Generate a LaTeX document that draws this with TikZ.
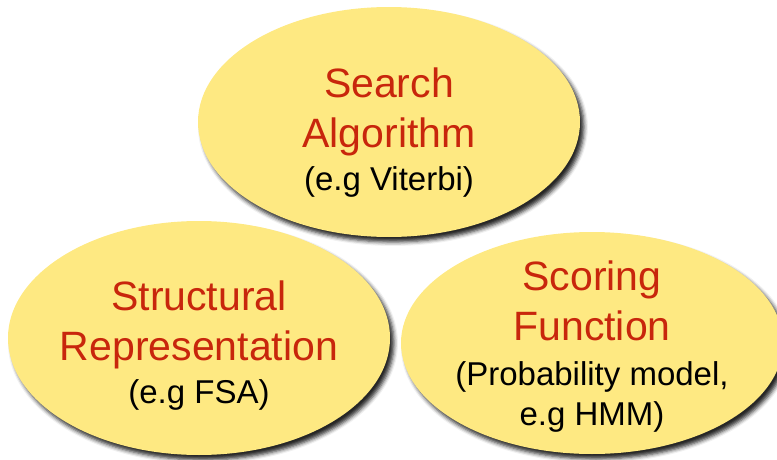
\documentclass[tikz,border=0pt]{standalone}
\usepackage{fontspec}
\setmainfont{Liberation Sans}
\usetikzlibrary{shapes.geometric,shadows.blur}
\definecolor{bubblefill}{RGB}{254,233,130}
\definecolor{titlered}{RGB}{200,38,12}
\tikzset{
  bubble/.style={ellipse, fill=bubblefill, inner sep=0pt,
    blur shadow={shadow xshift=4pt, shadow yshift=-5pt,
      shadow blur radius=4pt, shadow opacity=85}},
  title/.style={anchor=base, text=titlered, font=\fontsize{41}{41}\selectfont, inner sep=0pt},
  note/.style={anchor=base, text=black, font=\fontsize{33}{33}\selectfont, inner sep=0pt}
}
\begin{document}
\begin{tikzpicture}[x=1pt,y=1pt]
  \useasboundingbox (0,0) rectangle (777,459);
  % the three components
  \node[bubble, minimum width=382pt, minimum height=230pt] (search) at (389,337) {};
  \node[bubble, minimum width=382pt, minimum height=234pt] (struct) at (199,121) {};
  \node[bubble, minimum width=382pt, minimum height=222pt] (score) at (592,116) {};
  % search algorithm
  \node[title] (s1) at (389,362) {Search};
  \node[title] (s2) at (389,312) {Algorithm};
  \node[note]  (s3) at (389,269) {(e.g Viterbi)};
  % structural representation
  \node[title] (r1) at (199,149) {Structural};
  \node[title] (r2) at (199,99) {Representation};
  \node[note]  (r3) at (199,56) {(e.g FSA)};
  % scoring function
  \node[title] (f1) at (592,169) {Scoring};
  \node[title] (f2) at (592,119) {Function};
  \node[note]  (f3) at (592,74) {(Probability model,};
  \node[note]  (f4) at (592,34) {e.g HMM)};
\end{tikzpicture}
\end{document}
